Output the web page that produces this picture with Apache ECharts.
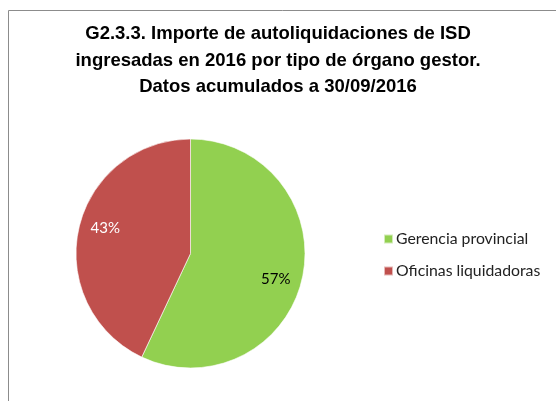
<!DOCTYPE html>
<html>
<head>
<meta charset="utf-8">
<script src="https://cdn.jsdelivr.net/npm/echarts@6/dist/echarts.min.js"></script>
<style>
  html, body { margin: 0; padding: 0; background: #fff; }
  #chart { width: 556px; height: 401px; }
</style>
</head>
<body>
<div id="chart"></div>
<script>
const categories = ['Gerencia provincial', 'Oficinas liquidadoras'];
const shares = [57, 43];
const colors = ['#92d050', '#c0504d'];
const labelColors = ['#000000', '#ffffff'];

const center = [190.5, 253.5];
const radius = 114.5;
// Excel puts the labels at ~0.78 of the radius, a little clockwise of the mid-angle
const labelDist = 89;
const labelTurn = 4 * Math.PI / 180;

const data = categories.map((name, i) => ({
    name,
    value: shares[i],
    itemStyle: {color: colors[i]},
    label: {color: labelColors[i]}
}));

const option = {
    animation: false,
    title: {
        text: 'G2.3.3. Importe de autoliquidaciones de ISD\ningresadas en 2016 por tipo de órgano gestor.\nDatos acumulados a 30/09/2016',
        left: 'center',
        top: 16,
        textStyle: {
            fontFamily: '"Liberation Sans Narrow", "Arial Narrow", sans-serif',
            fontWeight: 'bold',
            fontSize: 18.5,
            lineHeight: 26.5,
            color: '#000'
        }
    },
    legend: {
        orient: 'vertical',
        left: 378,
        top: 225,
        itemWidth: 9,
        itemHeight: 9,
        itemGap: 14,
        icon: 'rect',
        textStyle: {
            fontFamily: 'Lato, sans-serif',
            fontSize: 15.8,
            lineHeight: 18,
            color: '#222',
            padding: [0, 0, 0, -2]
        },
        data: categories
    },
    graphic: [{
        type: 'rect',
        silent: true,
        shape: {x: 8.5, y: 10.5, width: 600, height: 500},
        style: {fill: 'none', stroke: '#8c8c8c', lineWidth: 1}
    }],
    series: [{
        type: 'pie',
        center,
        radius: [0, radius],
        startAngle: 90,
        clockwise: true,
        label: {
            show: true,
            position: 'inside',
            formatter: '{c}%',
            fontFamily: 'Lato, sans-serif',
            fontSize: 15
        },
        labelLayout: (params) => {
            const r = params.labelRect;
            const lx = r.x + r.width / 2 - center[0];
            const ly = r.y + r.height / 2 - center[1];
            const len = Math.hypot(lx, ly);
            const ux = lx / len, uy = ly / len;
            const tx = (ux * Math.cos(labelTurn) - uy * Math.sin(labelTurn)) * labelDist;
            const ty = (ux * Math.sin(labelTurn) + uy * Math.cos(labelTurn)) * labelDist;
            return {dx: tx - lx, dy: ty - ly};
        },
        itemStyle: {borderColor: 'rgba(255,255,255,0.6)', borderWidth: 1},
        emphasis: {disabled: true},
        data
    }]
};

const myChart = echarts.init(document.getElementById('chart'));
myChart.setOption(option);
</script>
</body>
</html>
